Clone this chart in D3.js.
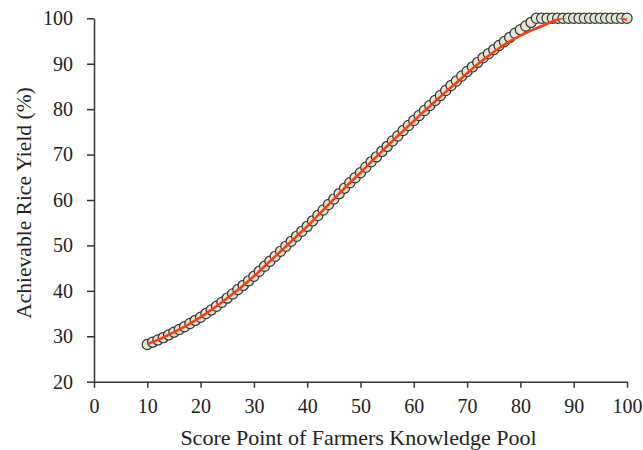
<!DOCTYPE html>
<html>
<head>
<meta charset="utf-8">
<script src="https://cdn.jsdelivr.net/npm/d3@7/dist/d3.min.js"></script>
<style>
  html, body { margin: 0; padding: 0; background: #fff; }
  svg { display: block; }
  text { font-family: "Liberation Serif", "Times New Roman", serif; fill: #222; }
</style>
</head>
<body>
<svg id="chart" width="643" height="450"></svg>
<script>
// Knowledge-pool score (x) and achievable rice yield (%) for each score point
const scores = d3.range(10, 101);
const yieldPct = [
  28.2, 28.7, 29.2, 29.7, 30.3, 30.9, 31.5, 32.1, 32.8, 33.5,
  34.2, 35.0, 35.8, 36.6, 37.5, 38.4, 39.3, 40.3, 41.2, 42.2,
  43.2, 44.3, 45.4, 46.5, 47.6, 48.7, 49.8, 50.9, 52.0, 53.1,
  54.2, 55.4, 56.6, 57.8, 59.0, 60.2, 61.4, 62.6, 63.8, 64.9,
  66.0, 67.2, 68.4, 69.5, 70.7, 71.8, 73.0, 74.1, 75.3, 76.4,
  77.5, 78.6, 79.7, 80.8, 81.9, 83.0, 84.1, 85.2, 86.2, 87.3,
  88.3, 89.3, 90.3, 91.3, 92.2, 93.1, 94.0, 94.9, 95.8, 96.7,
  97.5, 98.3, 99.1, 100, 100, 100, 100, 100, 100, 100,
  100, 100, 100, 100, 100, 100, 100, 100, 100, 100,
  100
];

// Fitted trend line through the points
const fitX = [10, 12, 14, 16, 18, 20, 22, 24, 26, 28, 30, 32, 34, 36, 38, 40, 42, 44, 46, 48,
              50, 52, 54, 56, 58, 60, 62, 64, 66, 68, 70, 72, 74, 76, 78, 80, 82, 84, 86, 88,
              90, 92, 94, 96, 98, 100];
const fitY = [28.3, 29.2, 30.3, 31.5, 32.8, 34.2, 35.8, 37.5, 39.3, 41.2, 43.2, 45.4, 47.6, 49.8, 52.0, 54.2, 56.6, 59.0, 61.4, 63.8,
              66.0, 68.4, 70.7, 73.0, 75.2, 77.4, 79.6, 81.7, 83.8, 85.8, 87.9, 89.9, 91.7, 93.4, 94.9, 96.2, 97.3, 98.3, 99.3, 100.1,
              100.7, 101.0, 101.1, 100.9, 100.4, 99.7];

const xTicks = [0, 10, 20, 30, 40, 50, 60, 70, 80, 90, 100];
const yTicks = [20, 30, 40, 50, 60, 70, 80, 90, 100];

const serif = '"Liberation Serif", "Times New Roman", serif';
const svg = d3.select("#chart");

const x = d3.scaleLinear().domain([0, 100]).range([94, 627]);
const y = d3.scaleLinear().domain([20, 100]).range([381.7, 18.3]);

// Plot-area clip for the trend line
svg.append("defs").append("clipPath").attr("id", "plotClip")
  .append("rect")
  .attr("x", x(0)).attr("y", y(100))
  .attr("width", x(100) - x(0)).attr("height", y(20) - y(100));

// Axes
const xAxis = d3.axisBottom(x).tickValues(xTicks).tickSize(6).tickSizeOuter(0).tickPadding(11);
const yAxis = d3.axisLeft(y).tickValues(yTicks).tickSize(7).tickSizeOuter(0).tickPadding(14);

const gx = svg.append("g").attr("transform", `translate(0,${y(20)})`).call(xAxis);
const gy = svg.append("g").attr("transform", `translate(${x(0)},0)`).call(yAxis);

[gx, gy].forEach(g => {
  g.attr("font-family", serif).attr("font-size", 20);
  g.select(".domain").attr("stroke", "#333").attr("stroke-width", 1.5);
  g.selectAll(".tick line").attr("stroke", "#333").attr("stroke-width", 1.5);
  g.selectAll(".tick text").attr("fill", "#222");
});

// Markers, drawn in order so each overlaps the previous one
svg.append("g").selectAll("circle")
  .data(scores.map((s, i) => [s, yieldPct[i]]))
  .join("circle")
  .attr("cx", d => x(d[0]))
  .attr("cy", d => y(d[1]))
  .attr("r", 5.1)
  .attr("fill", "#dfe8d6")
  .attr("stroke", "#333")
  .attr("stroke-width", 1.2);

// Trend line
const line = d3.line().x(d => x(d[0])).y(d => y(d[1])).curve(d3.curveCatmullRom);
svg.append("path")
  .datum(fitX.map((v, i) => [v, fitY[i]]))
  .attr("clip-path", "url(#plotClip)")
  .attr("d", line)
  .attr("fill", "none")
  .attr("stroke", "#ff3b10")
  .attr("stroke-width", 2.6);

// Axis titles
svg.append("text")
  .attr("x", (x(0) + x(100)) / 2 - 2).attr("y", 445)
  .attr("text-anchor", "middle")
  .attr("font-family", serif)
  .attr("font-size", 22)
  .text("Score Point of Farmers Knowledge Pool");

svg.append("text")
  .attr("transform", `translate(31,${(y(20) + y(100)) / 2 + 3}) rotate(-90)`)
  .attr("text-anchor", "middle")
  .attr("font-family", serif)
  .attr("font-size", 21.5)
  .text("Achievable Rice Yield (%)");
</script>
</body>
</html>
